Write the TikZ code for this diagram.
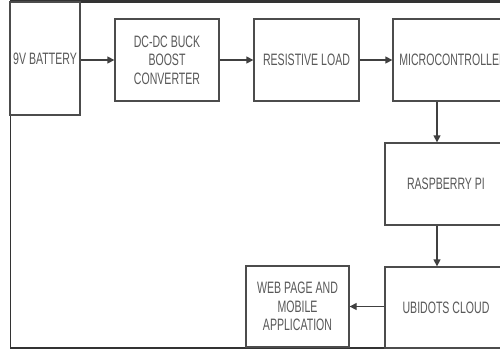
\documentclass[tikz,border=0pt]{standalone}
\usepackage{fontspec}
\newfontfamily\lblfont{Liberation Sans}[FakeStretch=0.64]
\usetikzlibrary{arrows.meta}
\tikzset{
  blk/.style={draw=black!70, line width=1.3pt, fill=white, inner sep=0pt,
    text=black!65, align=center, font=\lblfont\fontsize{16.5}{18.5}\selectfont},
  conn/.style={draw=black!75, line width=1.3pt, -{Triangle[length=7pt,width=7pt]}},
  frame/.style={draw=black!80}
}
\begin{document}
\begin{tikzpicture}[x=1pt,y=-1pt]
\useasboundingbox (0,0) rectangle (500,349);
\clip (0,0) rectangle (500,349);
\fill[white] (0,0) rectangle (500,349);
% outer frame
\draw[frame, line width=1.3pt] (10.5,2) -- (10.5,348) -- (500,348);
\draw[frame, line width=3pt] (10,1.5) -- (500,1.5);
% boxes
\node[blk, minimum width=70pt, minimum height=113pt] (bat) at (45,58.5) {9V BATTERY};
\node[blk, minimum width=104pt, minimum height=82pt] (dcdc) at (167,60) {DC-DC BUCK\\BOOST\\CONVERTER};
\node[blk, minimum width=105pt, minimum height=82pt] (res) at (306.5,60) {RESISTIVE LOAD};
\node[blk, minimum width=120pt, minimum height=82pt] (mcu) at (453,60) {MICROCONTROLLER};
\node[blk, minimum width=122pt, minimum height=82pt] (rpi) at (446,184) {RASPBERRY PI};
\node[blk, minimum width=122pt, minimum height=81pt] (ubi) at (446,307.5) {UBIDOTS CLOUD};
\node[blk, minimum width=103pt, minimum height=81pt] (web) at (297.5,306.5) {WEB PAGE AND\\MOBILE\\APPLICATION};
% connectors
\coordinate (vx) at (437,0);
\draw[conn] (bat.east |- dcdc.west) -- (dcdc.west);
\draw[conn] (dcdc.east) -- (res.west);
\draw[conn] (res.east) -- (mcu.west);
\draw[conn] (mcu.south -| vx) -- (rpi.north -| vx);
\draw[conn] (rpi.south -| vx) -- (ubi.north -| vx);
\draw[conn] (ubi.west |- web.east) -- (web.east);
\end{tikzpicture}
\end{document}
